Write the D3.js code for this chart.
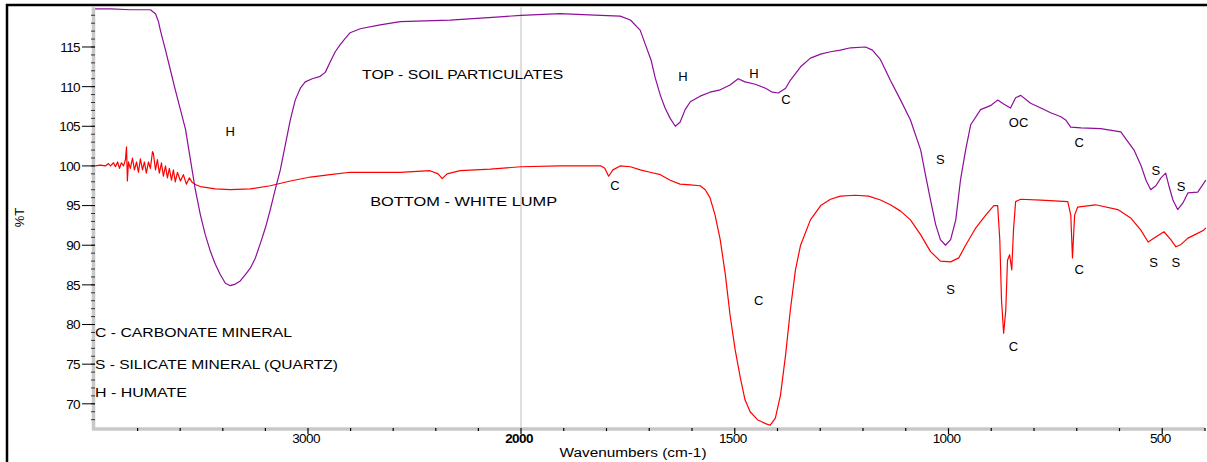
<!DOCTYPE html>
<html><head><meta charset="utf-8">
<script src="https://cdn.jsdelivr.net/npm/d3@7"></script>
<style>
body{margin:0;background:#fff;}
svg{display:block;font-family:"Liberation Sans",Arial,sans-serif;}
</style></head>
<body><svg id="c" width="1207" height="462"></svg>
<script>
// ---- data ----
const topWavenumbers = [4000,3927,3834,3740,3716,3702,3693,3669,3646,3623,3599,3575,3552,3529,3505,3482,3458,3435,3412,3388,3365,3341,3318,3294,3271,3247,3224,3200,3177,3154,3130,3107,3083,3060,3036,3013,2980,2943,2919,2896,2872,2849,2825,2802,2755,2661,2567,2333,2099,2000,1909,1813,1768,1744,1721,1709,1696,1686,1674,1663,1651,1639,1628,1616,1604,1581,1558,1534,1511,1492,1476,1452,1428,1412,1398,1381,1370,1346,1323,1299,1276,1253,1229,1194,1178,1159,1136,1112,1089,1065,1054,1042,1030,1019,1007,995,983,972,960,948,925,902,885,871,855,843,831,808,784,761,737,726,714,690,644,597,566,550,538,527,515,503,492,485,475,464,452,440,417,398];
const topT = [119.8,119.8,119.7,119.7,119.2,118.2,117.1,114.6,112.1,109.6,107.1,104.6,100.8,97.0,93.8,91.3,89.2,87.6,86.3,85.2,84.9,85.1,85.5,86.3,87.1,88.4,90.2,92.2,94.5,97.0,99.5,102.6,105.8,108.3,109.8,110.6,111.0,111.3,111.8,113.1,114.4,115.3,116.1,116.8,117.3,117.8,118.2,118.4,118.8,119.0,119.2,119.0,118.9,118.4,117.1,115.3,113.4,111.1,108.9,107.3,106.0,105.0,105.5,107.1,108.1,108.8,109.3,109.6,110.2,111.0,110.6,110.3,109.8,109.3,109.2,109.8,110.8,112.5,113.6,114.1,114.4,114.6,114.9,115.0,114.6,113.4,110.8,108.3,105.8,102.0,98.9,95.7,92.6,90.7,90.0,90.7,93.2,98.2,102.0,105.2,107.1,107.6,108.3,107.8,107.3,108.6,108.9,107.9,107.3,106.7,106.2,105.8,104.9,104.8,104.7,104.3,102.0,100.1,98.2,97.0,97.5,98.5,99.1,97.6,95.7,94.5,95.3,96.6,96.7,98.2];

const bottomWavenumbers = [4000,3974,3951,3937,3927,3913,3904,3894,3885,3876,3866,3857,3852,3848,3843,3834,3824,3815,3805,3796,3787,3777,3768,3759,3749,3740,3730,3726,3716,3707,3698,3688,3679,3669,3660,3651,3641,3632,3623,3613,3599,3585,3571,3557,3543,3524,3505,3435,3365,3271,3177,3083,2989,2896,2802,2708,2568,2427,2389,2370,2347,2286,2145,2000,1909,1813,1804,1795,1785,1768,1744,1721,1698,1674,1651,1628,1604,1581,1569,1558,1546,1534,1522,1511,1499,1487,1476,1464,1447,1428,1417,1405,1393,1381,1370,1358,1346,1323,1299,1276,1253,1218,1187,1159,1136,1112,1089,1065,1042,1019,995,976,960,936,913,894,885,880,876,871,866,862,857,852,848,843,831,784,721,714,710,705,698,656,604,573,550,533,519,496,480,468,456,440,421,403,398];
const bottomT = [100.0,100.1,100.0,100.3,100.0,100.4,99.9,100.5,99.7,100.4,100.0,100.8,102.4,98.1,100.5,99.7,101.0,99.5,100.5,99.2,100.9,99.5,100.5,99.1,100.5,99.7,101.8,101.6,99.5,100.8,99.1,100.4,98.7,100.0,98.5,99.7,98.2,99.5,98.0,99.2,98.1,98.9,97.7,98.5,97.9,97.6,97.4,97.1,97.0,97.1,97.5,98.1,98.6,98.9,99.2,99.2,99.2,99.4,99.0,98.4,99.0,99.4,99.6,99.9,100.0,100.0,99.7,98.7,99.5,100.0,99.9,99.5,99.2,98.9,98.2,97.7,97.6,97.5,97.0,96.0,93.8,90.7,86.3,81.2,76.8,73.3,70.5,69.0,68.0,67.5,67.3,68.2,71.1,76.2,81.8,86.9,90.0,93.2,95.0,95.8,96.2,96.3,96.2,95.7,95.1,94.3,93.2,91.3,89.2,88.0,87.9,88.4,90.0,92.2,93.8,95.0,95.0,90.7,83.1,78.9,81.8,88.1,88.8,86.9,91.9,95.5,95.8,95.7,95.5,93.8,88.4,93.8,94.8,95.1,94.5,93.4,91.9,90.4,90.9,91.7,90.7,89.8,90.1,90.9,91.4,91.9,92.2];

const yMajorTicks = [70,75,80,85,90,95,100,105,110,115];
const xMajorTicks = [3000,2000,1500,1000,500];
const xMinorTicks = [3800,3600,3400,3200,2800,2600,2400,2200,1900,1800,1700,1600,1400,1300,1200,1100,900,800,700,600,400];

const annotations = [
  {text:"H", w:3365, t:104.4, anchor:"middle"},
  {text:"TOP - SOIL PARTICULATES", w:2746, t:111.5, anchor:"start", len:201},
  {text:"H", w:1621, t:111.3, anchor:"middle"},
  {text:"H", w:1455, t:111.7, anchor:"middle"},
  {text:"C", w:1380, t:108.4, anchor:"middle"},
  {text:"BOTTOM - WHITE LUMP", w:2708, t:95.6, anchor:"start", len:187},
  {text:"C", w:1780, t:97.5, anchor:"middle"},
  {text:"C", w:1444, t:83.0, anchor:"middle"},
  {text:"S", w:1019, t:100.8, anchor:"middle"},
  {text:"S", w:995, t:84.5, anchor:"middle"},
  {text:"OC", w:836, t:105.5, anchor:"middle"},
  {text:"C", w:694, t:103.0, anchor:"middle"},
  {text:"C", w:848, t:77.3, anchor:"middle"},
  {text:"C", w:694, t:87.0, anchor:"middle"},
  {text:"S", w:515, t:99.4, anchor:"middle"},
  {text:"S", w:456, t:97.4, anchor:"middle"},
  {text:"S", w:520, t:87.9, anchor:"middle"},
  {text:"S", w:468, t:87.9, anchor:"middle"}
];
const legendLines = [
  {text:"C - CARBONATE MINERAL", t:79.0, len:197},
  {text:"S - SILICATE MINERAL (QUARTZ)", t:75.0, len:243},
  {text:"H - HUMATE", t:71.4, len:92}
];

// ---- chart ----
const svg = d3.select("#c");
const x = d3.scaleLinear().domain([4000,2000,400]).range([95,521,1205]);
const y = d3.scaleLinear().domain([67,120]).range([427.6,7.35]);

// outer frame
svg.append("rect").attr("x",7).attr("y",5).attr("width",1215).attr("height",480)
  .attr("fill","none").attr("stroke","#000").attr("stroke-width",2.5);

// 2000 separator line
svg.append("line").attr("x1",x(2000)).attr("x2",x(2000)).attr("y1",y(120)).attr("y2",y(67))
  .attr("stroke","#bdbdbd").attr("stroke-width",1);

const line = d3.line().x(d=>x(d[0])).y(d=>y(d[1]));
const topData = topWavenumbers.map((w,i)=>[w,topT[i]]);
const botData = bottomWavenumbers.map((w,i)=>[w,bottomT[i]]);
svg.append("path").datum(botData).attr("d",line).attr("fill","none")
  .attr("stroke","#ff0000").attr("stroke-width",1.2).attr("stroke-linejoin","round");
svg.append("path").datum(topData).attr("d",line).attr("fill","none")
  .attr("stroke","#8e0e9a").attr("stroke-width",1.2).attr("stroke-linejoin","round");

// annotations
svg.append("g").selectAll("text").data(annotations).join("text")
  .attr("x",d=>x(d.w)).attr("y",d=>y(d.t)).attr("dy","0.36em")
  .attr("text-anchor",d=>d.anchor).attr("font-size",13).attr("fill","#000")
  .each(function(d){ if(d.len) d3.select(this).attr("textLength",d.len).attr("lengthAdjust","spacingAndGlyphs"); })
  .text(d=>d.text);

svg.append("g").selectAll("text").data(legendLines).join("text")
  .attr("x",x(4000)).attr("y",d=>y(d.t)).attr("dy","0.36em")
  .attr("font-size",13).attr("fill","#000")
  .attr("textLength",d=>d.len).attr("lengthAdjust","spacingAndGlyphs")
  .text(d=>d.text);

// y axis
const yMinor = d3.range(68,120,1);
const yAxisG = svg.append("g");
yAxisG.append("line").attr("x1",x(4000)-1.5).attr("x2",x(4000)-1.5).attr("y1",y(120)).attr("y2",y(67)+2)
  .attr("stroke","#c8c8c8").attr("stroke-width",3.5);
yAxisG.selectAll(".mn").data(yMinor).join("line")
  .attr("x1",x(4000)-4).attr("x2",x(4000)).attr("y1",d=>y(d)).attr("y2",d=>y(d))
  .attr("stroke","#333").attr("stroke-width",1);
yAxisG.selectAll(".mj").data(yMajorTicks).join("line")
  .attr("x1",x(4000)-13).attr("x2",x(4000)).attr("y1",d=>y(d)).attr("y2",d=>y(d))
  .attr("stroke","#000").attr("stroke-width",1);
yAxisG.selectAll("text").data(yMajorTicks).join("text")
  .attr("x",x(4000)-15).attr("y",d=>y(d)).attr("dy","0.36em").attr("text-anchor","end")
  .attr("font-size",13.5).attr("fill","#000").attr("letter-spacing","-0.6").text(d=>d);
svg.append("text").attr("transform",`translate(24,${(y(120)+y(67))/2}) rotate(-90)`)
  .attr("text-anchor","middle").attr("font-size",13).text("%T");

// x axis
const xAxisY = y(67)+1.5;
const xAxisG = svg.append("g");
xAxisG.append("line").attr("x1",x(4000)-3).attr("x2",x(400)).attr("y1",xAxisY).attr("y2",xAxisY)
  .attr("stroke","#c8c8c8").attr("stroke-width",3.5);
xAxisG.selectAll(".mn").data(xMinorTicks).join("line")
  .attr("x1",d=>x(d)).attr("x2",d=>x(d)).attr("y1",xAxisY-1).attr("y2",xAxisY+2)
  .attr("stroke","#000").attr("stroke-width",1.2);
xAxisG.selectAll(".mj").data(xMajorTicks).join("line")
  .attr("x1",d=>x(d)).attr("x2",d=>x(d)).attr("y1",xAxisY-1).attr("y2",xAxisY+5)
  .attr("stroke","#000").attr("stroke-width",1.2);
xAxisG.selectAll("text").data(xMajorTicks).join("text")
  .attr("x",d=>x(d)-2).attr("y",xAxisY+14).attr("text-anchor","middle")
  .attr("font-size",13.5).attr("letter-spacing","-0.6")
  .attr("font-weight",d=>d===2000?"bold":"normal").text(d=>d);
svg.append("text").attr("x",633).attr("y",457).attr("text-anchor","middle")
  .attr("font-size",12.5).attr("textLength",147).attr("lengthAdjust","spacingAndGlyphs")
  .text("Wavenumbers (cm-1)");
</script></body></html>
